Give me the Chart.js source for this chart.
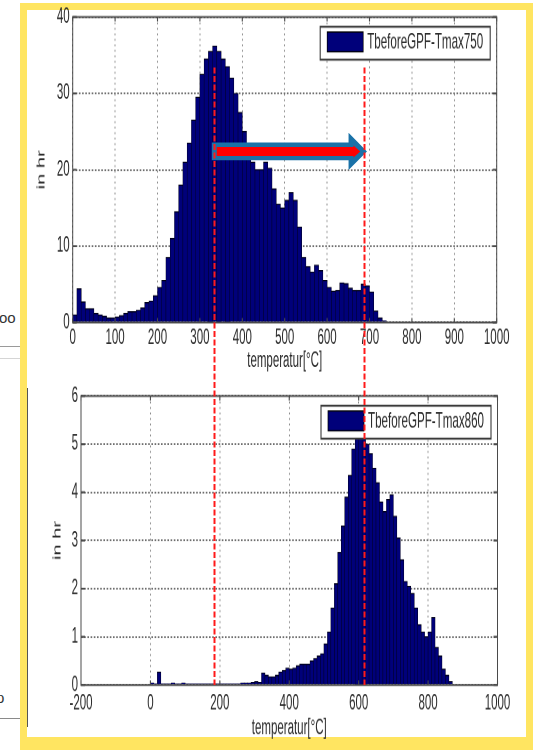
<!DOCTYPE html>
<html>
<head>
<meta charset="utf-8">
<script src="https://cdn.jsdelivr.net/npm/chart.js@4.4.0/dist/chart.umd.min.js"></script>
<style>
  html, body { margin: 0; padding: 0; background: #fff; }
  body { width: 535px; height: 752px; position: relative; overflow: hidden; font-family: 'Liberation Sans', Arial, sans-serif; }
  #frame { position: absolute; left: 20px; top: 3px; width: 499px; height: 727px; border: 7px solid #FFE561; border-bottom-width: 13px; }
  .plot { position: absolute; left: 0; width: 535px; height: 205px; transform: scaleY(1.83); transform-origin: 0 0; }
  #topWrap { top: 0; }
  #botWrap { top: 370px; }
  #overlay { position: absolute; left: 0; top: 0; pointer-events: none; }
  .bg { position: absolute; background: #c8c8c8; }
  .bgtext { position: absolute; color: #333; font-size: 15px; }
</style>
</head>
<body>
<div class="bg" style="left:0;top:346px;width:20px;height:1px;background:#9a9a9a"></div>
<div class="bg" style="left:0;top:358px;width:20px;height:1px;background:#d5d5d5"></div>
<div class="bg" style="left:0;top:718px;width:28px;height:1px;background:#8a8a8a"></div>
<div class="bgtext" style="left:-1px;top:309px">oo</div>
<div class="bgtext" style="left:-4px;top:689px">p</div>
<div id="frame"></div>
<div class="bg" style="left:27px;top:388px;width:1px;height:339px;background:#555"></div>
<div id="topWrap" class="plot"><canvas id="topChart" width="535" height="205"></canvas></div>
<div id="botWrap" class="plot"><canvas id="botChart" width="535" height="205"></canvas></div>
<canvas id="overlay" width="535" height="752"></canvas>
<script>
// top histogram: TbeforeGPF-Tmax750, 10 degC bins (centres)
const topBins = [5,15,25,35,45,55,65,75,85,95,105,115,125,135,145,155,165,175,185,195,
  205,215,225,235,245,255,265,275,285,295,305,315,325,335,345,355,365,375,385,395,
  405,415,425,435,445,455,465,475,485,495,505,515,525,535,545,555,565,575,585,595,
  605,615,625,635,645,655,665,675,685,695,705,715,725,735,745,755];
const topHours = [1.0,4.4,2.7,1.8,1.8,1.2,1.0,0.8,0.6,0.6,
  0.7,0.9,1.2,1.4,1.4,1.6,1.9,2.6,2.8,3.5,
  4.6,5.5,8.5,11.0,14.5,18.0,21.0,23.5,26.5,29.5,
  32.5,34.5,35.5,36.2,35.5,34.5,33.5,32.0,30.0,27.5,
  25.0,22.5,21.0,20.0,20.0,21.0,20.2,17.5,15.5,15.0,
  16.0,17.0,16.0,12.5,8.5,7.3,6.6,7.5,6.8,5.5,
  4.6,4.1,4.2,5.2,5.1,4.5,4.2,4.2,5.0,4.8,
  4.0,1.5,0.6,0.2,0.1,0.1];

// bottom histogram: TbeforeGPF-Tmax860
const botBins = [5,15,25,35,45,55,65,75,85,95,105,115,125,135,145,155,165,175,185,195,
  205,215,225,235,245,255,265,275,285,295,305,315,325,335,345,355,365,375,385,395,
  405,415,425,435,445,455,465,475,485,495,505,515,525,535,545,555,565,575,585,595,
  605,615,625,635,645,655,665,675,685,695,705,715,725,735,745,755,765,775,785,795,
  805,815,825,835,845,855,865];
const botHours = [0.04,0.02,0.27,0.02,0.02,0.02,0.04,0.02,0.02,0.04,
  0.02,0.02,0.02,0.02,0.02,0.02,0.02,0.02,0.02,0.02,
  0.02,0.02,0.02,0.02,0.02,0.02,0.04,0.04,0.04,0.05,
  0.07,0.05,0.25,0.2,0.17,0.17,0.2,0.27,0.3,0.35,
  0.33,0.35,0.4,0.43,0.43,0.43,0.5,0.55,0.6,0.65,
  0.85,1.1,1.6,2.1,2.75,3.3,3.9,4.35,4.9,5.2,
  5.3,5.25,5.0,4.8,4.5,4.2,3.8,3.6,3.85,3.95,
  3.5,3.05,2.6,2.15,2.05,1.9,1.6,1.25,1.1,1.0,
  1.1,1.4,0.78,0.6,0.33,0.2,0.07];

const topLabel = 'TbeforeGPF-Tmax750';
const botLabel = 'TbeforeGPF-Tmax860';

// red marker lines (temperatures on the top axis) and the shift arrow
const markTemps = [333, 687];
const markFromHours = 33.4;
const arrowFrom = 328, arrowTo = 694, arrowHours = 22.4;

const FONT = "'Liberation Sans', Arial, sans-serif";
const TXT = '#2b2b2b';
const SY = 1.83; // the picture is stretched vertically
const H = 205;   // canvas height before the stretch

// box, inner tick marks and legend in the matlab way
const matlabBox = {
  id: 'matlabBox',
  afterDraw(chart) {
    const ctx = chart.ctx, a = chart.chartArea;
    const xs = chart.scales.x, ys = chart.scales.y;
    ctx.save();
    ctx.strokeStyle = '#4a4a4a';
    ctx.lineWidth = 1.1;
    ctx.beginPath();
    xs.ticks.forEach(t => {
      const x = xs.getPixelForValue(t.value);
      ctx.moveTo(x, a.bottom); ctx.lineTo(x, a.bottom - 2.5);
      ctx.moveTo(x, a.top); ctx.lineTo(x, a.top + 2.5);
    });
    ys.ticks.forEach(t => {
      const y = ys.getPixelForValue(t.value);
      ctx.moveTo(a.left, y); ctx.lineTo(a.left + 4, y);
      ctx.moveTo(a.right, y); ctx.lineTo(a.right - 4, y);
    });
    ctx.stroke();
    ctx.lineWidth = 1;
    ctx.strokeRect(a.left, a.top, a.right - a.left, a.bottom - a.top);

    // legend box
    const w = 170, h = 18;
    const lx = a.right - 6.5 - w, ly = a.top + 5.3;
    ctx.fillStyle = '#fff';
    ctx.fillRect(lx, ly, w, h);
    ctx.strokeStyle = '#3a3a3a';
    ctx.lineWidth = 1.1;
    ctx.strokeRect(lx, ly, w, h);
    const ds = chart.data.datasets[0];
    ctx.fillStyle = ds.backgroundColor;
    ctx.fillRect(lx + 7, ly + 2.9, 36, 10.8);
    ctx.strokeStyle = '#000';
    ctx.lineWidth = 0.7;
    ctx.strokeRect(lx + 7, ly + 2.9, 36, 10.8);
    ctx.fillStyle = TXT;
    ctx.font = '11.6px ' + FONT;
    ctx.textBaseline = 'middle';
    ctx.fillText(ds.label, lx + 47, ly + 8.8);
    ctx.restore();
  }
};

// o.* positions are in page pixels, measured from the top of the plot's wrapper
function histChart(id, bins, hours, o) {
  const axisFont = {family: FONT, size: 11.5};
  const areaTop = o.plotTop / SY, areaBottom = o.plotBottom / SY;
  const xHeight = H - areaBottom;
  const xTitlePad = Math.max(0, (H - o.xTitleMid / SY) - 11.5 * 1.2 / 2);
  return new Chart(document.getElementById(id), {
    type: 'bar',
    data: {
      datasets: [{
        label: o.label,
        data: bins.map((t, i) => ({x: t, y: hours[i]})),
        backgroundColor: '#00007a',
        borderColor: '#000018',
        borderWidth: {left: 0.5, right: 0.5, top: 0.7, bottom: 0},
        barPercentage: 1,
        categoryPercentage: 1
      }]
    },
    options: {
      responsive: false,
      animation: false,
      devicePixelRatio: 2,
      layout: {padding: {left: 0, top: areaTop, right: 535 - o.right, bottom: 0}},
      plugins: {legend: {display: false}, tooltip: {enabled: false}},
      scales: {
        x: {
          type: 'linear', min: o.xMin, max: o.xMax, offset: false,
          grid: {offset: false, color: '#8c8c8c', lineWidth: 1, drawTicks: false},
          border: {display: false, dash: [1, 2]},
          ticks: {stepSize: o.xStep, padding: o.xPad, color: TXT, font: axisFont, maxRotation: 0, autoSkip: false,
                  callback: v => String(v)},
          title: {display: true, text: 'temperatur[°C]', color: TXT, font: axisFont, padding: {top: 0, bottom: xTitlePad}},
          afterFit: s => { s.height = xHeight; s.paddingLeft = 0; s.paddingRight = 0; }
        },
        y: {
          min: 0, max: o.yMax,
          grid: {color: '#6e6e6e', lineWidth: 1, drawTicks: false},
          border: {display: false, dash: [1.6, 1.6]},
          ticks: {stepSize: o.yStep, padding: 3, color: TXT, font: axisFont, callback: v => String(v)},
          title: {display: true, text: 'in hr', color: TXT, font: {family: FONT, size: 11}, padding: {top: o.yTitlePad, bottom: 0}},
          afterFit: s => { s.width = o.left; s.paddingTop = 0; s.paddingBottom = 0; }
        }
      }
    },
    plugins: [matlabBox]
  });
}

const topChart = histChart('topChart', topBins, topHours, {
  label: topLabel, xMin: 0, xMax: 1000, xStep: 100, yMax: 40, yStep: 10,
  left: 72.7, right: 496.7, plotTop: 17, plotBottom: 322.5, xTitleMid: 361, xPad: 1.6, yTitlePad: 35
});
const botChart = histChart('botChart', botBins, botHours, {
  label: botLabel, xMin: -200, xMax: 1000, xStep: 200, yMax: 6, yStep: 1,
  left: 81, right: 497.5, plotTop: 26, plotBottom: 315, xTitleMid: 358, xPad: 3.3, yTitlePad: 51
});

// overlay: arrow and red dashed lines through both plots
const ov = document.getElementById('overlay').getContext('2d');
const tx = topChart.scales.x, ty = topChart.scales.y;
const pageY = v => SY * ty.getPixelForValue(v);
const yEnd = 370 + SY * botChart.chartArea.bottom;

const ay = pageY(arrowHours);
const ax0 = tx.getPixelForValue(arrowFrom), ax1 = tx.getPixelForValue(arrowTo);
ov.fillStyle = '#1A72A8';
ov.beginPath();
ov.moveTo(ax0, ay - 8.8); ov.lineTo(ax1 - 18.4, ay - 8.8); ov.lineTo(ax1 - 18.4, ay - 18.7);
ov.lineTo(ax1, ay); ov.lineTo(ax1 - 18.4, ay + 18.7); ov.lineTo(ax1 - 18.4, ay + 8.8);
ov.lineTo(ax0, ay + 8.8); ov.closePath(); ov.fill();
ov.fillStyle = '#FF0000';
ov.beginPath();
ov.moveTo(ax0 + 5, ay - 4.5); ov.lineTo(ax1 - 13.5, ay - 4.5); ov.lineTo(ax1 - 13.5, ay - 6);
ov.lineTo(ax1 - 6.7, ay); ov.lineTo(ax1 - 13.5, ay + 6); ov.lineTo(ax1 - 13.5, ay + 4.5);
ov.lineTo(ax0 + 5, ay + 4.5); ov.closePath(); ov.fill();

ov.strokeStyle = '#FF1a1a';
ov.lineWidth = 2;
ov.setLineDash([6, 2.5]);
markTemps.forEach(t => {
  const x = Math.round(tx.getPixelForValue(t)) + 0.5;
  ov.beginPath();
  ov.moveTo(x, pageY(markFromHours));
  ov.lineTo(x, yEnd);
  ov.stroke();
});
</script>
</body>
</html>
